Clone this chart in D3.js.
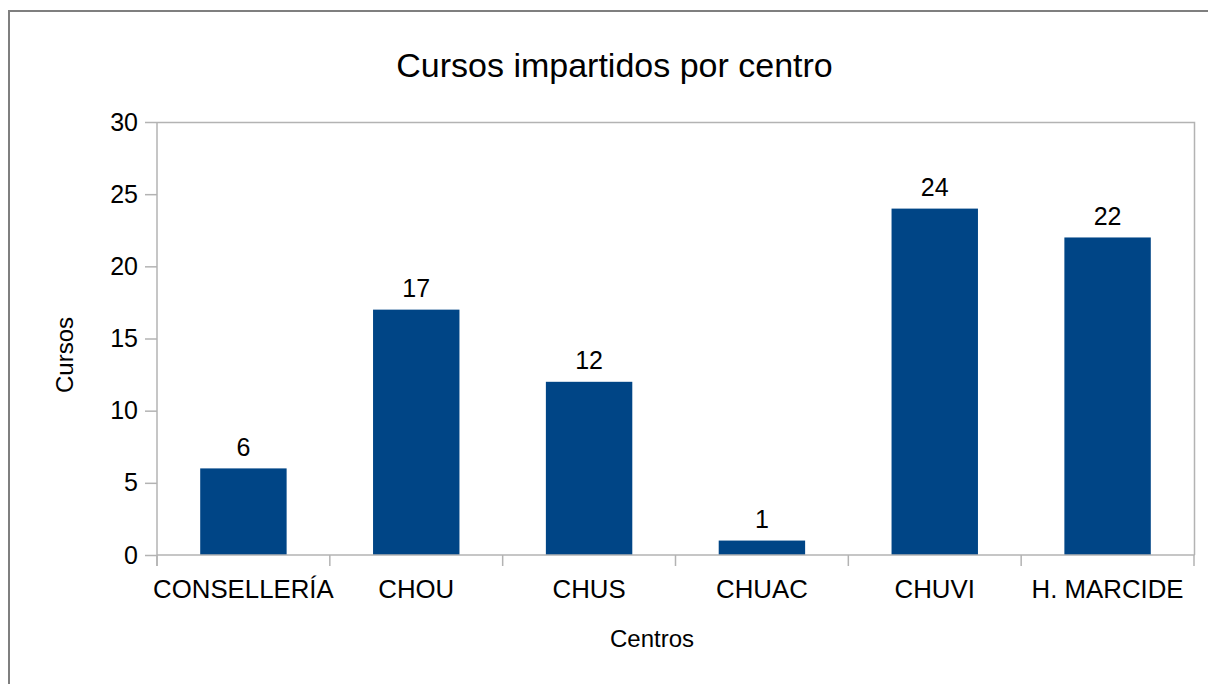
<!DOCTYPE html>
<html>
<head>
<meta charset="utf-8">
<script src="https://cdn.jsdelivr.net/npm/d3@7"></script>
<style>
  html, body { margin: 0; padding: 0; background: #fff; }
  svg { display: block; font-family: "Liberation Sans", Arial, sans-serif; }
</style>
</head>
<body>
<svg id="chart" width="1208" height="684"></svg>
<script>
const categories = ["CONSELLERÍA", "CHOU", "CHUS", "CHUAC", "CHUVI", "H. MARCIDE"];
const values = [6, 17, 12, 1, 24, 22];
const yTicks = [0, 5, 10, 15, 20, 25, 30];
const title = "Cursos impartidos por centro";
const xTitle = "Centros";
const yTitle = "Cursos";

(function () {
const svg = d3.select("#chart");
const W = 1208, H = 684;
const pL = 157, pR = 1194, pT = 122, pB = 555;
const gray = "#b3b3b3";

svg.append("rect").attr("width", W).attr("height", H).attr("fill", "#fff");
// outer frame
svg.append("rect").attr("x", 9).attr("y", 11).attr("width", W + 20).attr("height", H + 20)
  .attr("fill", "none").attr("stroke", "#7f7f7f").attr("stroke-width", 2);

const x = d3.scaleBand().domain(categories).range([pL, pR]).paddingInner(0).paddingOuter(0);
const y = d3.scaleLinear().domain([0, 30]).range([pB, pT]);

// plot area border (top, right)
svg.append("path")
  .attr("d", `M${pL},${pT + 0.5}H${pR + 0.5}V${pB}`)
  .attr("fill", "none").attr("stroke", gray).attr("stroke-width", 1.5);

// bars
const bw = x.bandwidth() * 0.5;
svg.append("g").selectAll("rect").data(values).join("rect")
  .attr("x", (d, i) => x(categories[i]) + (x.bandwidth() - bw) / 2)
  .attr("y", d => y(d))
  .attr("width", bw)
  .attr("height", d => y(0) - y(d))
  .attr("fill", "#004586");

// y axis
const yAxis = d3.axisLeft(y).tickValues(yTicks).tickSize(12).tickPadding(7).tickFormat(d3.format("d"));
const gy = svg.append("g").attr("transform", `translate(${pL},0)`).call(yAxis);
gy.select(".domain").attr("stroke", gray).attr("stroke-width", 1.5)
  .attr("d", `M0,${pT}V${pB + 11}`);
gy.selectAll(".tick line").attr("stroke", gray).attr("stroke-width", 1.5);
gy.selectAll(".tick text").attr("fill", "#000").attr("font-size", 25)
  .attr("font-family", "Liberation Sans, Arial, sans-serif");

// x axis
const boundaries = categories.map(c => x(c)).concat([pR]);
svg.append("g").selectAll("line").data(boundaries).join("line")
  .attr("x1", d => d).attr("x2", d => d)
  .attr("y1", pB).attr("y2", pB + 11)
  .attr("stroke", gray).attr("stroke-width", 1.5);
svg.append("line").attr("x1", pL).attr("x2", pR + 0.5)
  .attr("y1", pB).attr("y2", pB)
  .attr("stroke", gray).attr("stroke-width", 1.5);
svg.append("g").selectAll("text").data(categories).join("text")
  .attr("x", d => x(d) + x.bandwidth() / 2)
  .attr("y", 598)
  .attr("text-anchor", "middle")
  .attr("font-size", 25.8)
  .attr("fill", "#000")
  .text(d => d);

// data labels
svg.append("g").selectAll("text").data(values).join("text")
  .attr("x", (d, i) => x(categories[i]) + x.bandwidth() / 2)
  .attr("y", d => y(d) - 12.5)
  .attr("text-anchor", "middle")
  .attr("font-size", 25)
  .attr("fill", "#000")
  .text(d => d);

// titles
svg.append("text").attr("x", 614.5).attr("y", 77).attr("text-anchor", "middle")
  .attr("font-size", 34).attr("fill", "#000").text(title);
svg.append("text").attr("x", 652).attr("y", 647).attr("text-anchor", "middle")
  .attr("font-size", 24).attr("fill", "#000").text(xTitle);
svg.append("text").attr("transform", "translate(73,355) rotate(-90)").attr("text-anchor", "middle")
  .attr("font-size", 24).attr("fill", "#000").text(yTitle);
})();
</script>
</body>
</html>
